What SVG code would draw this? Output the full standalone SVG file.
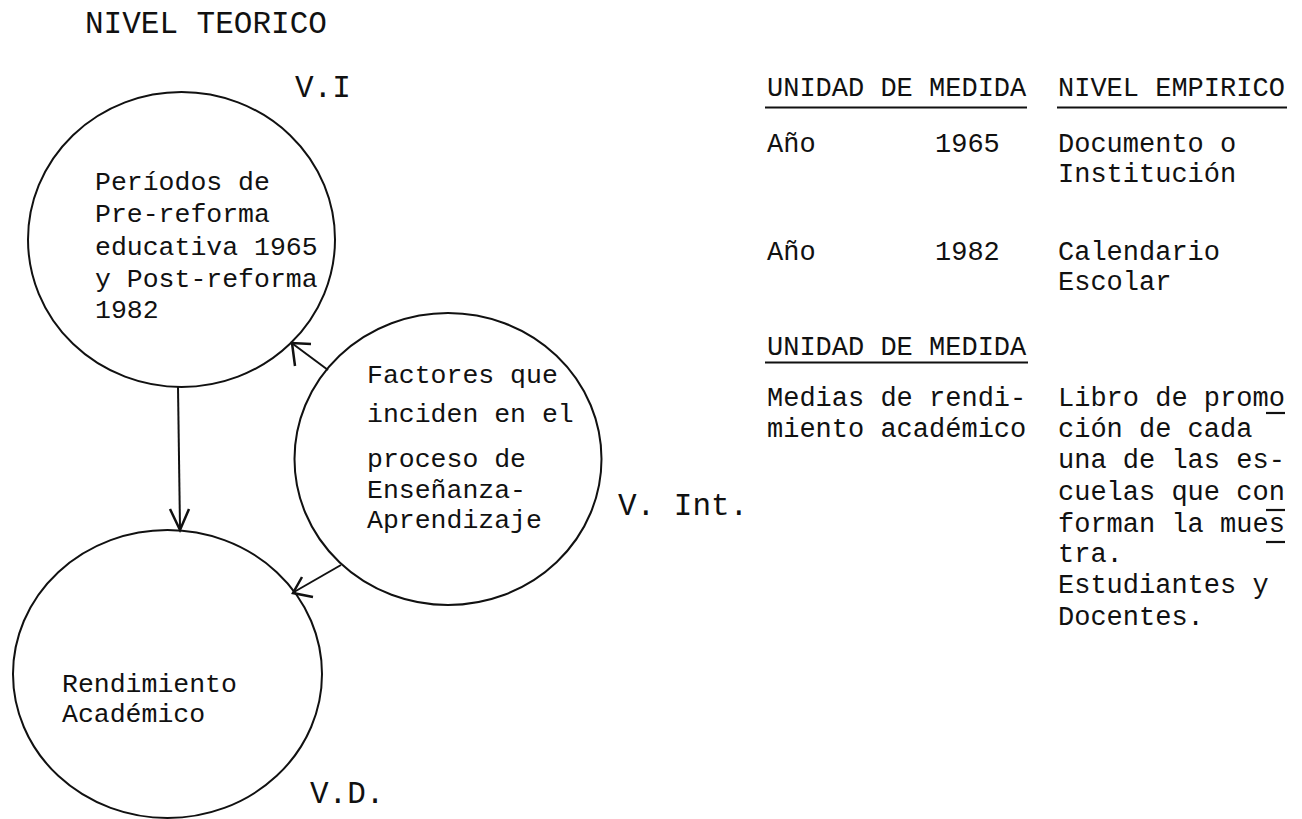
<svg xmlns="http://www.w3.org/2000/svg" width="1302" height="819" viewBox="0 0 1302 819">
<style>
text{font-family:"Liberation Mono","DejaVu Sans Mono",monospace;fill:#111}
.t{font-size:31px}
.b{font-size:26.5px}
.r{font-size:27px}
.c{fill:none;stroke:#111;stroke-width:2}
.l{fill:none;stroke:#111;stroke-width:2}
.h{fill:none;stroke:#111;stroke-width:2.5;stroke-linejoin:miter}
.u{stroke:#111;stroke-width:2.2}
</style>
<rect width="1302" height="819" fill="#fff"/>
<text class="t" x="85" y="33">NIVEL TEORICO</text>
<g id="node-vi">
<ellipse class="c" cx="181.5" cy="239.5" rx="153.5" ry="147.5"/>
<text class="t" x="295" y="97">V.I</text>
<text class="b" x="95" y="190">Períodos de</text>
<text class="b" x="95" y="222">Pre-reforma</text>
<text class="b" x="95" y="255">educativa 1965</text>
<text class="b" x="95" y="287">y Post-reforma</text>
<text class="b" x="95" y="318">1982</text>
</g>
<g id="node-vint">
<ellipse class="c" cx="448" cy="459" rx="153.5" ry="146"/>
<text class="b" x="367" y="383">Factores que</text>
<text class="b" x="367" y="422">inciden en el</text>
<text class="b" x="367" y="467">proceso de</text>
<text class="b" x="367" y="498">Enseñanza-</text>
<text class="b" x="367" y="528">Aprendizaje</text>
<text class="t" x="618" y="515">V. Int.</text>
</g>
<g id="node-vd">
<ellipse class="c" cx="167.5" cy="674" rx="154.5" ry="144"/>
<text class="b" x="62" y="692">Rendimiento</text>
<text class="b" x="62" y="722">Académico</text>
<text class="t" x="310" y="803">V.D.</text>
</g>
<g id="connectors">
<line class="l" x1="178" y1="387" x2="180" y2="528"/>
<polyline class="h" points="170,509 180,530 189,509"/>
<line class="l" x1="328" y1="370" x2="293" y2="344"/>
<polyline class="h" points="311,344 292,343 295,366"/>
<line class="l" x1="341" y1="565" x2="294" y2="592"/>
<polyline class="h" points="302,577 293,593 313,597"/>
</g>
<g id="table">
<text class="r" x="767" y="96">UNIDAD DE MEDIDA</text>
<line class="u" x1="765" y1="107.5" x2="1027" y2="107.5"/>
<text class="r" x="1058" y="96">NIVEL EMPIRICO</text>
<line class="u" x1="1057" y1="107.5" x2="1287" y2="107.5"/>
<text class="r" x="767" y="152">Año</text>
<text class="r" x="935" y="152">1965</text>
<text class="r" x="1058" y="152">Documento o</text>
<text class="r" x="1058" y="182">Institución</text>
<text class="r" x="767" y="260">Año</text>
<text class="r" x="935" y="260">1982</text>
<text class="r" x="1058" y="260">Calendario</text>
<text class="r" x="1058" y="290">Escolar</text>
<text class="r" x="767" y="355">UNIDAD DE MEDIDA</text>
<line class="u" x1="765" y1="362.5" x2="1028" y2="362.5"/>
<text class="r" x="767" y="406">Medias de rendi-</text>
<text class="r" x="767" y="437">miento académico</text>
<text class="r" x="1058" y="406">Libro de promo</text>
<text class="r" x="1058" y="437">ción de cada</text>
<text class="r" x="1058" y="468">una de las es-</text>
<text class="r" x="1058" y="500">cuelas que con</text>
<text class="r" x="1058" y="532">forman la mues</text>
<text class="r" x="1058" y="562">tra.</text>
<text class="r" x="1058" y="593">Estudiantes y</text>
<text class="r" x="1058" y="625">Docentes.</text>
<line class="u" x1="1266" y1="413" x2="1285" y2="413"/>
<line class="u" x1="1266" y1="510" x2="1285" y2="510"/>
<line class="u" x1="1266" y1="542" x2="1285" y2="542"/>
</g>
</svg>
